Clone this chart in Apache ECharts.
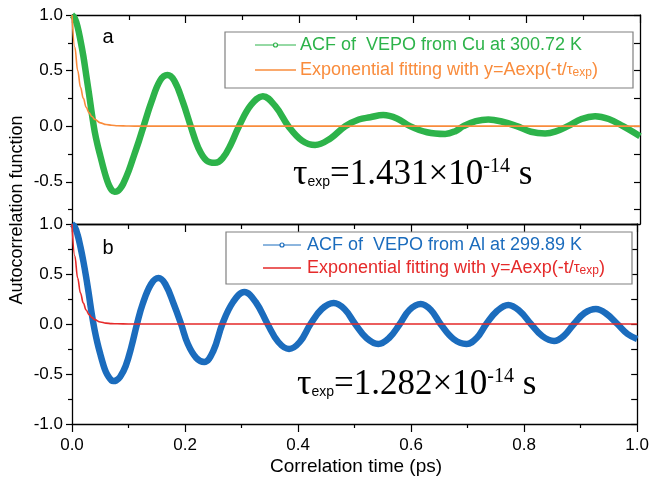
<!DOCTYPE html>
<html>
<head>
<meta charset="utf-8">
<script src="https://cdn.jsdelivr.net/npm/echarts@6/dist/echarts.min.js"></script>
<style>
html, body { margin: 0; padding: 0; background: #fff; }
#chart { width: 652px; height: 482px; }
</style>
</head>
<body>
<div id="chart"></div>
<script>
// panel a: Cu
var cuTime = [0, 0.005, 0.01, 0.015, 0.02, 0.025, 0.03, 0.035, 0.04, 0.045, 0.05, 0.055, 0.06, 0.065, 0.07, 0.075, 0.08, 0.085, 0.09, 0.1, 0.11, 0.118, 0.126, 0.14, 0.155, 0.168, 0.18, 0.195, 0.209, 0.222, 0.237, 0.252, 0.265, 0.28, 0.294, 0.315, 0.336, 0.358, 0.381, 0.405, 0.428, 0.455, 0.481, 0.505, 0.525, 0.548, 0.572, 0.595, 0.625, 0.657, 0.675, 0.689, 0.711, 0.733, 0.758, 0.783, 0.808, 0.833, 0.853, 0.873, 0.897, 0.921, 0.945, 0.97, 1.0];
var cuAcf = [1, 0.97, 0.89, 0.77, 0.63, 0.46, 0.29, 0.11, -0.05, -0.17, -0.27, -0.37, -0.46, -0.53, -0.575, -0.59, -0.585, -0.56, -0.52, -0.4, -0.25, -0.13, 0, 0.22, 0.41, 0.46, 0.41, 0.22, 0, -0.19, -0.31, -0.33, -0.29, -0.16, 0, 0.19, 0.27, 0.18, 0, -0.13, -0.17, -0.11, 0, 0.06, 0.08, 0.1, 0.07, 0, -0.055, -0.07, -0.045, 0, 0.045, 0.06, 0.04, 0, -0.05, -0.065, -0.045, 0, 0.065, 0.09, 0.065, 0, -0.09];
var cuFitTime = [0, 0.005, 0.01, 0.015, 0.02, 0.025, 0.03, 0.035, 0.04, 0.05, 0.06, 0.07, 0.08, 0.1, 0.12, 1.0];
var cuFit = [1, 0.71, 0.5, 0.35, 0.25, 0.17, 0.12, 0.087, 0.061, 0.03, 0.015, 0.008, 0.004, 0.001, 0, 0];

// panel b: Al
var alTime = [0, 0.005, 0.01, 0.015, 0.02, 0.025, 0.03, 0.035, 0.04, 0.045, 0.05, 0.055, 0.06, 0.065, 0.07, 0.073, 0.078, 0.085, 0.095, 0.105, 0.115, 0.125, 0.14, 0.153, 0.165, 0.18, 0.193, 0.205, 0.22, 0.234, 0.25, 0.266, 0.285, 0.305, 0.325, 0.346, 0.365, 0.384, 0.403, 0.422, 0.442, 0.463, 0.482, 0.501, 0.521, 0.542, 0.561, 0.58, 0.597, 0.617, 0.635, 0.652, 0.675, 0.698, 0.716, 0.733, 0.752, 0.772, 0.792, 0.812, 0.832, 0.853, 0.87, 0.888, 0.907, 0.927, 0.946, 0.965, 0.983, 1.0];
var alAcf = [1, 0.97, 0.89, 0.77, 0.63, 0.47, 0.29, 0.1, -0.06, -0.19, -0.3, -0.4, -0.48, -0.53, -0.565, -0.57, -0.565, -0.53, -0.42, -0.23, 0, 0.2, 0.4, 0.46, 0.4, 0.2, 0, -0.2, -0.34, -0.38, -0.27, 0, 0.22, 0.32, 0.22, 0, -0.18, -0.25, -0.18, 0, 0.15, 0.21, 0.15, 0, -0.14, -0.2, -0.14, 0, 0.14, 0.2, 0.14, 0, -0.15, -0.2, -0.14, 0, 0.13, 0.19, 0.13, 0, -0.12, -0.17, -0.12, 0, 0.11, 0.15, 0.1, 0, -0.1, -0.15];
var alFitTime = [0, 0.005, 0.01, 0.015, 0.02, 0.025, 0.03, 0.035, 0.04, 0.05, 0.06, 0.07, 0.08, 0.1, 0.12, 1.0];
var alFit = [1, 0.68, 0.46, 0.31, 0.21, 0.14, 0.096, 0.065, 0.044, 0.02, 0.009, 0.004, 0.002, 0, 0, 0];

// tick values
var topLabelTicks = [-0.5, 0, 0.5, 1.0];
var topMinorTicks = [-0.75, -0.25, 0.25, 0.75];
var topRightTicks = [-0.75, -0.5, -0.25, 0, 0.25, 0.5, 0.75, 1.0];

var GREEN = '#2db34a', ORANGE = '#f98c3c', BLUE = '#1b6cbd', RED = '#e52a2a';
var SANS = '"Liberation Sans", Arial, sans-serif';
var SERIF = '"Liberation Serif", "Times New Roman", serif';

function pairs(t, v) {
  return t.map(function (x, i) { return [x, v[i]]; });
}
function fmt(v) { return v.toFixed(1); }

var axisLine = { show: true, onZero: false, lineStyle: { color: '#000', width: 1.3 } };
var tickStyle = { color: '#000', width: 1.2 };
var label = { color: '#000', fontSize: 17, fontFamily: SANS, formatter: fmt };

var chart = echarts.init(document.getElementById('chart'));
var option = {
  animation: false,
  grid: [
    { left: 72, right: 12, top: 15, height: 209 },
    { left: 72, right: 12, top: 224, height: 200 }
  ],
  xAxis: [
    { gridIndex: 0, type: 'value', position: 'bottom', min: 0, max: 1, axisLine: axisLine,
      axisTick: { show: false }, axisLabel: { show: false }, splitLine: { show: false } },
    { gridIndex: 0, type: 'value', position: 'top', min: 0, max: 1, interval: 0.2, axisLine: axisLine,
      axisTick: { inside: true, length: 8, lineStyle: tickStyle },
      minorTick: { show: true, splitNumber: 2, length: 5, lineStyle: tickStyle },
      axisLabel: { show: false }, splitLine: { show: false } },
    { gridIndex: 1, type: 'value', position: 'bottom', min: 0, max: 1, interval: 0.2, axisLine: axisLine,
      axisTick: { length: 8, lineStyle: tickStyle },
      minorTick: { show: true, splitNumber: 2, length: 4, lineStyle: tickStyle },
      axisLabel: Object.assign({ margin: 13 }, label), splitLine: { show: false } },
    { gridIndex: 1, type: 'value', position: 'top', min: 0, max: 1, interval: 0.2, axisLine: axisLine,
      axisTick: { inside: true, length: 8, lineStyle: tickStyle },
      minorTick: { show: true, splitNumber: 2, length: 5, lineStyle: tickStyle },
      axisLabel: { show: false }, splitLine: { show: false } }
  ],
  yAxis: [
    { gridIndex: 0, type: 'value', position: 'left', min: -0.88, max: 1, axisLine: axisLine,
      axisTick: { length: 6, customValues: topLabelTicks, lineStyle: tickStyle },
      axisLabel: Object.assign({ margin: 9, customValues: topLabelTicks }, label),
      splitLine: { show: false } },
    { gridIndex: 0, type: 'value', position: 'left', min: -0.88, max: 1, axisLine: { show: false, onZero: false },
      axisTick: { length: 4, customValues: topMinorTicks, lineStyle: tickStyle },
      axisLabel: { show: false }, splitLine: { show: false } },
    { gridIndex: 0, type: 'value', position: 'right', min: -0.88, max: 1, axisLine: axisLine,
      axisTick: { inside: true, length: 6, customValues: topRightTicks, lineStyle: tickStyle },
      axisLabel: { show: false }, splitLine: { show: false } },
    { gridIndex: 1, type: 'value', position: 'left', min: -1, max: 1, interval: 0.5, axisLine: axisLine,
      axisTick: { length: 6, lineStyle: tickStyle },
      minorTick: { show: true, splitNumber: 2, length: 4, lineStyle: tickStyle },
      axisLabel: Object.assign({ margin: 9 }, label), splitLine: { show: false } },
    { gridIndex: 1, type: 'value', position: 'right', min: -1, max: 1, interval: 0.25, axisLine: axisLine,
      axisTick: { inside: true, length: 6, lineStyle: tickStyle },
      axisLabel: { show: false }, splitLine: { show: false } }
  ],
  series: [
    { type: 'line', xAxisIndex: 0, yAxisIndex: 0, data: pairs(cuTime, cuAcf), smooth: 0.4,
      symbol: 'none', lineStyle: { color: GREEN, width: 6.5 }, z: 2 },
    { type: 'line', xAxisIndex: 0, yAxisIndex: 0, data: pairs(cuFitTime, cuFit), smooth: 0.4, smoothMonotone: 'x',
      symbol: 'none', lineStyle: { color: ORANGE, width: 1.6 }, z: 3 },
    { type: 'line', xAxisIndex: 2, yAxisIndex: 3, data: pairs(alTime, alAcf), smooth: 0.4,
      symbol: 'none', lineStyle: { color: BLUE, width: 6.5 }, z: 2 },
    { type: 'line', xAxisIndex: 2, yAxisIndex: 3, data: pairs(alFitTime, alFit), smooth: 0.4, smoothMonotone: 'x',
      symbol: 'none', lineStyle: { color: RED, width: 1.6 }, z: 3 }
  ],
  graphic: [
    // axis titles
    { type: 'text', x: 17, y: 210, rotation: Math.PI / 2,
      style: { text: 'Autocorrelation function', font: '18px ' + SANS, fill: '#000', align: 'center', verticalAlign: 'middle' } },
    { type: 'text', x: 356, y: 467,
      style: { text: 'Correlation time (ps)', font: '19px ' + SANS, fill: '#000', align: 'center', verticalAlign: 'middle' } },
    // panel letters
    { type: 'text', x: 108, y: 37, style: { text: 'a', font: '20px ' + SANS, fill: '#000', align: 'center', verticalAlign: 'middle' } },
    { type: 'text', x: 108, y: 248, style: { text: 'b', font: '20px ' + SANS, fill: '#000', align: 'center', verticalAlign: 'middle' } },

    // legend a
    { type: 'rect', z: 100, shape: { x: 225, y: 32, width: 408, height: 56 }, style: { fill: '#fff', stroke: '#808080', lineWidth: 1.2 } },
    { type: 'line', z: 101, shape: { x1: 255, y1: 45, x2: 296, y2: 45 }, style: { stroke: GREEN, lineWidth: 1 } },
    { type: 'circle', z: 102, shape: { cx: 275.5, cy: 45, r: 2 }, style: { fill: '#fff', stroke: GREEN, lineWidth: 1.2 } },
    { type: 'text', z: 101, x: 300, y: 45,
      style: { text: 'ACF of  VEPO from Cu at 300.72 K', font: '18px ' + SANS, fill: GREEN, verticalAlign: 'middle' } },
    { type: 'line', z: 101, shape: { x1: 255, y1: 70, x2: 296, y2: 70 }, style: { stroke: ORANGE, lineWidth: 1.5 } },
    { type: 'text', z: 101, x: 300, y: 70,
      style: { text: '{a|Exponential fitting with y=Aexp(-t/}{t|τ}{s|exp}{a|)}', verticalAlign: 'middle',
        rich: {
          a: { fontSize: 18, fontFamily: SANS, fill: ORANGE, color: ORANGE },
          t: { fontSize: 15, fontFamily: SANS, fill: ORANGE, color: ORANGE },
          s: { fontSize: 12, fontFamily: SANS, fill: ORANGE, color: ORANGE, verticalAlign: 'bottom' }
        } } },

    // legend b
    { type: 'rect', z: 100, shape: { x: 226, y: 232, width: 406, height: 52 }, style: { fill: '#fff', stroke: '#808080', lineWidth: 1.2 } },
    { type: 'line', z: 101, shape: { x1: 263, y1: 245, x2: 301, y2: 245 }, style: { stroke: BLUE, lineWidth: 1 } },
    { type: 'circle', z: 102, shape: { cx: 282, cy: 245, r: 2 }, style: { fill: '#fff', stroke: BLUE, lineWidth: 1.2 } },
    { type: 'text', z: 101, x: 307, y: 245,
      style: { text: 'ACF of  VEPO from Al at 299.89 K', font: '18px ' + SANS, fill: BLUE, verticalAlign: 'middle' } },
    { type: 'line', z: 101, shape: { x1: 263, y1: 268, x2: 301, y2: 268 }, style: { stroke: RED, lineWidth: 1.5 } },
    { type: 'text', z: 101, x: 307, y: 268,
      style: { text: '{a|Exponential fitting with y=Aexp(-t/}{t|τ}{s|exp}{a|)}', verticalAlign: 'middle',
        rich: {
          a: { fontSize: 18, fontFamily: SANS, fill: RED, color: RED },
          t: { fontSize: 15, fontFamily: SANS, fill: RED, color: RED },
          s: { fontSize: 12, fontFamily: SANS, fill: RED, color: RED, verticalAlign: 'bottom' }
        } } },

    // tau annotations
    { type: 'text', x: 293, y: 175,
      style: { text: '{t|τ}{s|exp}{n|=1.431×10}{p|-14}{n| s}', verticalAlign: 'middle',
        rich: {
          t: { fontSize: 36, fontFamily: SERIF, fill: '#000' },
          s: { fontSize: 14, fontFamily: SANS, fill: '#000', verticalAlign: 'bottom', padding: [0, 0, 4, 0] },
          n: { fontSize: 35, fontFamily: SERIF, fill: '#000' },
          p: { fontSize: 20, fontFamily: SERIF, fill: '#000', verticalAlign: 'top' }
        } } },
    { type: 'text', x: 297, y: 385,
      style: { text: '{t|τ}{s|exp}{n|=1.282×10}{p|-14}{n| s}', verticalAlign: 'middle',
        rich: {
          t: { fontSize: 36, fontFamily: SERIF, fill: '#000' },
          s: { fontSize: 14, fontFamily: SANS, fill: '#000', verticalAlign: 'bottom', padding: [0, 0, 4, 0] },
          n: { fontSize: 35, fontFamily: SERIF, fill: '#000' },
          p: { fontSize: 20, fontFamily: SERIF, fill: '#000', verticalAlign: 'top' }
        } } }
  ]
};
chart.setOption(option);
window.addEventListener('resize', function () {
  chart.resize();
});
</script>
</body>
</html>
